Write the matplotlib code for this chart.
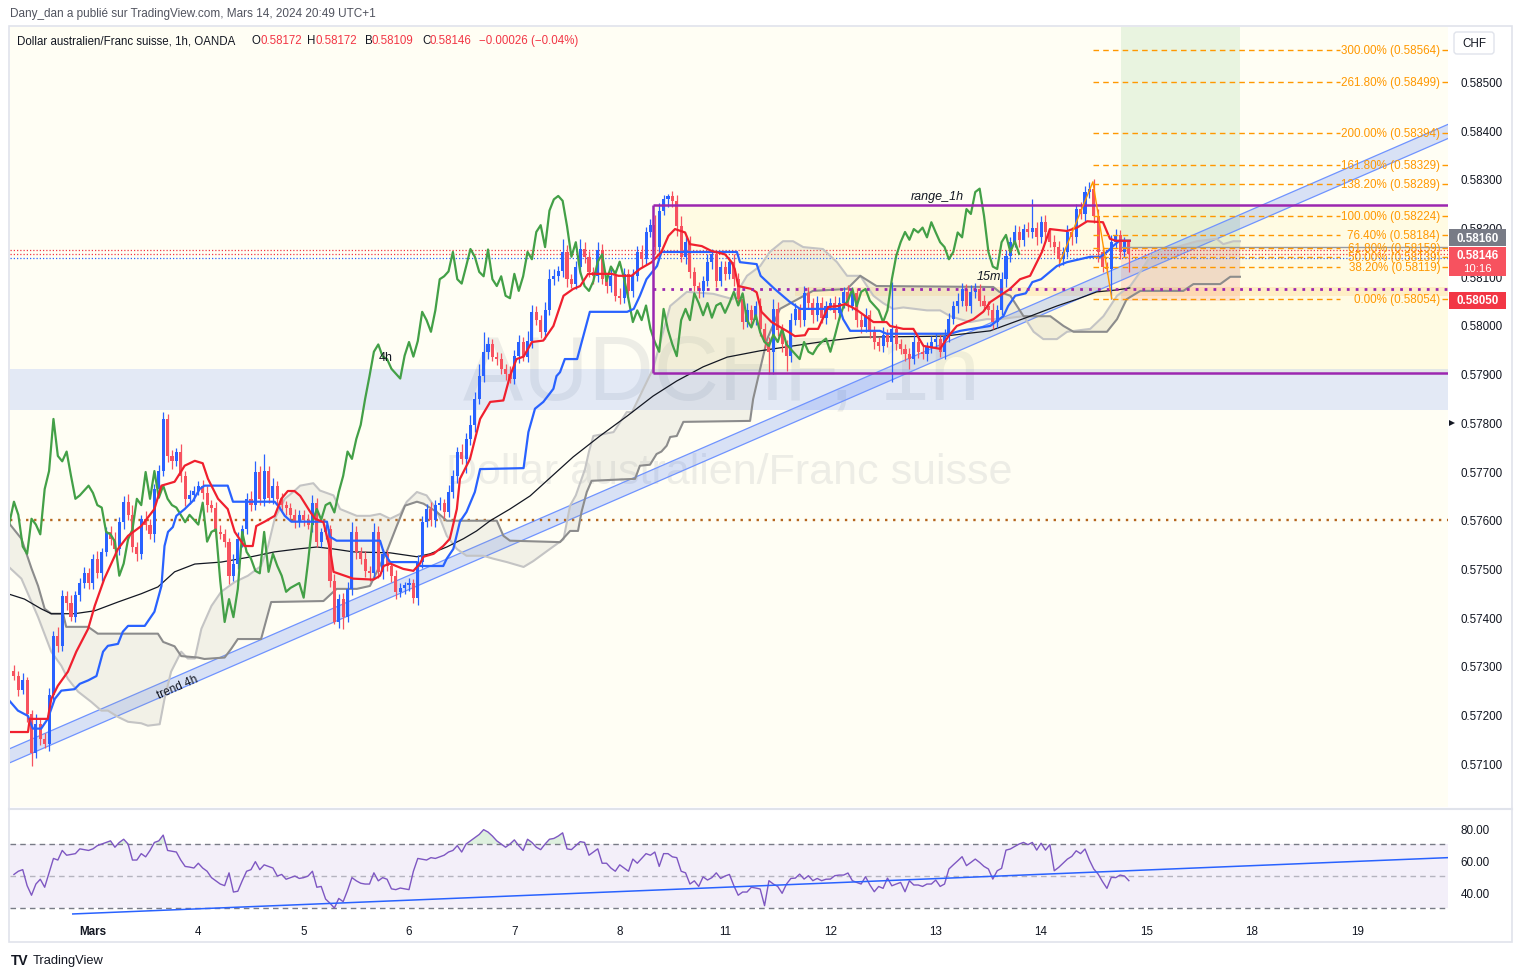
import numpy as np
import matplotlib
matplotlib.use("Agg")
import matplotlib.pyplot as plt
from matplotlib.patches import Rectangle, Polygon, FancyBboxPatch

plt.rcParams['font.family'] = ['Liberation Sans', 'DejaVu Sans']

W, H = 1521, 979
U = 1e-5  # prices below are stored in units of 0.00001

# ---------------- data ----------------
day_ticks = [18, 42, 66, 90, 114, 138, 162, 186, 210, 234, 258, 282, 306]
day_labels = ['Mars', '4', '5', '6', '7', '8', '11', '12', '13', '14', '15', '18', '19']

first_open = 57290
closes = (
    [57280, 57250, 57270, 57200, 57120, 57180, 57150, 57140, 57240, 57361, 57340, 57444, 57430, 57400, 57445, 57470, 57490, 57470]
    + [57520, 57490, 57534, 57575, 57560, 57540, 57595, 57637, 57610, 57545, 57530, 57602, 57590, 57570, 57663, 57700, 57807, 57731, 57720, 57740, 57690, 57643, 57650, 57660]
    + [57670, 57655, 57630, 57625, 57575, 57570, 57555, 57485, 57510, 57560, 57580, 57643, 57630, 57698, 57643, 57700, 57645, 57670, 57643, 57630, 57625, 57610, 57595, 57610]
    + [57600, 57590, 57635, 57555, 57575, 57580, 57474, 57390, 57437, 57400, 57458, 57575, 57534, 57520, 57495, 57490, 57575, 57493, 57530, 57505, 57485, 57452, 57460, 57465]
    + [57470, 57440, 57513, 57596, 57622, 57600, 57630, 57635, 57615, 57657, 57690, 57740, 57725, 57766, 57795, 57848, 57895, 57945, 57960, 57935, 57930, 57910, 57900, 57890]
    + [57937, 57965, 57935, 57967, 58027, 58010, 57986, 58030, 58094, 58100, 58110, 58150, 58094, 58085, 58120, 58156, 58140, 58109, 58100, 58155, 58094, 58080, 58100, 58060]
    + [58055, 58105, 58070, 58100, 58150, 58135, 58191, 58205, 58160, 58235, 58258, 58265, 58255, 58203, 58140, 58170, 58109, 58080, 58070, 58090, 58130, 58145, 58090, 58120]
    + [58105, 58130, 58095, 58053, 58006, 58030, 58010, 58040, 57992, 57965, 57945, 58033, 57990, 57960, 57936, 58010, 58033, 58010, 58065, 58045, 58020, 58045, 58015, 58040]
    + [58045, 58025, 58045, 58068, 58040, 58065, 58010, 57995, 58020, 57985, 57965, 57957, 57980, 57965, 57992, 57960, 57950, 57940, 57930, 57965, 57945, 57940, 57955, 57965]
    + [57972, 57945, 57977, 58012, 58039, 58050, 58074, 58039, 58068, 58074, 58050, 58040, 58030, 58006, 58030, 58094, 58142, 58170, 58191, 58175, 58197, 58190, 58200, 58180]
    + [58211, 58190, 58170, 58160, 58135, 58150, 58190, 58180, 58238, 58228, 58273, 58280, 58224, 58150, 58120, 58115, 58170, 58185, 58150, 58172, 58146]
)
wick_up = (
    [12, 10, 15, 8, 10, 20, 10, 12, 15, 10, 18, 12, 10, 15, 8, 10, 12, 10]
    + [10, 15, 8, 10, 12, 15, 10, 12, 15, 20, 10, 8, 15, 12, 10, 12, 14, 10, 12, 8, 15, 10, 12, 10]
    + [10, 12, 15, 10, 12, 15, 10, 8, 20, 15, 10, 12, 15, 22, 12, 35, 10, 15, 10, 12, 8, 10, 12, 10]
    + [10, 12, 15, 10, 8, 12, 10, 15, 10, 12, 15, 20, 12, 10, 15, 10, 18, 12, 10, 8, 10, 12, 10, 8]
    + [10, 8, 15, 12, 10, 15, 10, 12, 8, 15, 12, 10, 15, 12, 20, 15, 25, 41, 15, 12, 10, 12, 10, 15]
    + [12, 15, 10, 20, 15, 12, 10, 18, 20, 15, 12, 27, 15, 10, 12, 20, 15, 12, 10, 15, 12, 10, 15, 12]
    + [15, 12, 10, 15, 12, 15, 10, 12, 20, 15, 8, 5, 10, 12, 20, 15, 12, 10, 8, 10, 15, 12, 10, 12]
    + [12, 10, 15, 12, 10, 15, 12, 10, 15, 12, 10, 20, 15, 12, 10, 15, 12, 10, 15, 12, 10, 15, 12, 10]
    + [10, 15, 12, 10, 15, 12, 10, 12, 15, 10, 12, 10, 15, 12, 96, 10, 12, 10, 12, 15, 10, 12, 10, 12]
    + [12, 10, 15, 12, 10, 15, 12, 10, 15, 12, 10, 12, 10, 15, 12, 15, 12, 10, 15, 12, 10, 15, 59, 12]
    + [12, 15, 10, 15, 12, 10, 15, 12, 10, 15, 12, 14, 20, 15, 12, 10, 15, 12, 10, 8, 0]
)
wick_dn = (
    [10, 12, 8, 15, 25, 10, 12, 8, 15, 10, 12, 10, 15, 8, 10, 12, 10, 12]
    + [12, 10, 15, 8, 12, 10, 12, 15, 10, 12, 15, 10, 12, 10, 15, 12, 10, 12, 15, 10, 12, 15, 10, 12]
    + [10, 12, 15, 10, 12, 10, 12, 17, 10, 12, 15, 10, 12, 10, 12, 15, 10, 12, 10, 12, 15, 10, 12, 10]
    + [12, 10, 15, 12, 10, 15, 12, 5, 12, 24, 10, 12, 15, 10, 12, 15, 10, 12, 15, 10, 12, 15, 10, 12]
    + [12, 10, 15, 12, 10, 12, 15, 10, 12, 10, 12, 15, 10, 30, 12, 15, 10, 12, 15, 10, 12, 10, 12, 10]
    + [12, 15, 10, 12, 15, 10, 12, 15, 10, 12, 10, 12, 15, 10, 12, 15, 12, 10, 15, 12, 10, 15, 12, 10]
    + [12, 10, 15, 12, 10, 15, 12, 10, 15, 12, 10, 15, 12, 20, 10, 15, 12, 10, 15, 12, 10, 15, 12, 10]
    + [12, 10, 15, 12, 15, 10, 12, 10, 15, 12, 45, 45, 12, 15, 30, 12, 10, 15, 12, 10, 15, 12, 10, 12]
    + [10, 12, 15, 10, 12, 10, 15, 12, 10, 12, 15, 10, 12, 10, 82, 12, 10, 15, 20, 10, 12, 10, 15, 12]
    + [12, 10, 15, 12, 10, 15, 12, 10, 15, 12, 10, 12, 10, 15, 12, 10, 15, 12, 10, 15, 12, 10, 12, 15]
    + [12, 15, 10, 12, 15, 12, 10, 15, 12, 10, 15, 12, 15, 20, 12, 10, 62, 12, 15, 10, 37]
)
rsi_values = (
    [51, 53, 54, 44, 38, 45, 48, 43, 52, 61, 60, 66, 63, 63.5, 64, 67, 66.5, 66]
    + [67, 69, 70, 71, 72, 68, 71, 73, 70, 60, 60, 64, 62, 66, 71, 72, 75.6, 66, 65.5, 65, 60, 56, 55.6, 55]
    + [58, 55, 53, 49, 47, 45, 44, 52, 40, 40.5, 47, 53, 54, 59, 54, 57, 56, 55, 50, 51, 48, 49, 50, 48.5]
    + [49, 50, 53, 43, 43.5, 35.6, 33, 30, 36, 34, 41, 49, 47, 45.5, 45, 45, 52, 47, 49, 48, 42, 41.5, 42.5, 42]
    + [41.5, 53, 61, 60.5, 60, 61.5, 61, 62, 63, 65, 66, 69, 65, 70, 72, 74, 76, 79, 77.5, 75, 72, 70, 68, 70]
    + [72.6, 69, 66, 73, 71, 68, 66.5, 70, 73, 73.5, 75, 77, 67, 66.5, 69, 71.5, 71, 63, 65, 67, 58, 58, 55, 53]
    + [57, 55, 53, 60.6, 58, 61, 64, 63, 65, 56, 64, 64, 62, 61.5, 53, 52, 45, 47, 43.5, 49.5, 47.5, 49, 52, 48.5]
    + [50, 51, 44, 38, 40, 40, 43, 42.5, 41.9, 31.5, 47.1, 45, 43.5, 39.2, 45, 48.5, 48.7, 51.2, 48.1, 50.2, 47.1, 48.5, 47.1, 48]
    + [48.1, 50.2, 50.6, 50.6, 51.9, 47.1, 46, 45, 49.6, 44.4, 40.2, 43.5, 42.3, 48.7, 43.9, 45, 46, 40.2, 47.1, 44.4, 44.4, 43.5, 45, 45]
    + [47.5, 43.5, 45, 54.4, 57, 59.5, 62.1, 56.5, 58.5, 60.6, 58.5, 56, 54.4, 48.1, 53.3, 54.8, 66.2, 66.9, 68.5, 70, 71, 69.6, 71, 66.2]
    + [70.5, 66.2, 69.6, 53.3, 55.4, 58, 60.6, 62.3, 65.8, 64, 66.9, 60, 54.4, 51.2, 46.5, 42.3, 49.2, 49, 50.6, 50, 47.1]
)

# indicator lines: (bar index, price)
tenkan = [(-1.4, 57164), (3.2, 57164), (3.6, 57191), (7.7, 57191), (8.5, 57232), (10, 57259), (12.3, 57288), (14.2, 57329),
          (16.9, 57376), (18.4, 57423), (20.6, 57479), (23.7, 57540), (26, 57567), (29, 57587), (32, 57622), (33.6, 57670),
          (36.6, 57678), (38.9, 57711), (41.2, 57721), (43, 57716), (44.2, 57684), (46.5, 57643), (48.7, 57622), (50.3, 57575),
          (52.5, 57546), (54.4, 57546), (55.2, 57587), (57.1, 57596), (59.4, 57608), (60.9, 57643), (62.4, 57659), (63.9, 57659),
          (65.2, 57649), (67.5, 57616), (68.6, 57602), (70.5, 57595), (72, 57540), (72.8, 57493), (77.3, 57479), (81.9, 57477),
          (83.4, 57485), (84.2, 57505), (85.7, 57510), (88.7, 57499), (91, 57495), (92.5, 57510), (93.3, 57524), (95.6, 57530),
          (97.8, 57546), (99.3, 57561), (100.9, 57622), (101.6, 57684), (103.9, 57725), (106.2, 57807), (108.5, 57842),
          (111.5, 57845), (113, 57895), (114.5, 57930), (116.1, 57935), (118, 57965), (120.6, 57968), (122.9, 57998),
          (125.2, 58060), (127.4, 58074), (129, 58080), (130.8, 58105), (136.2, 58105), (137.7, 58101), (140.7, 58101),
          (142.6, 58115), (145.3, 58129), (147.5, 58150), (149.1, 58183), (150.6, 58197), (152.9, 58190), (154, 58166),
          (156.7, 58162), (158.9, 58152), (162, 58145), (163.5, 58129), (164.2, 58115), (165, 58080), (168, 58074),
          (169.2, 58067), (170.3, 58027), (172.6, 58006), (174.1, 57998), (176.4, 57986), (177.9, 57977), (180.2, 57979),
          (181, 57992), (183.2, 57992), (185.5, 58037), (187.8, 58039), (189.3, 58043), (190.8, 58037), (192.3, 58029),
          (195.8, 58006), (198.8, 58006), (199.6, 57998), (202.6, 57992), (204.9, 57992), (207.2, 57957), (211, 57951),
          (212.9, 57977), (214.8, 57998), (217, 58006), (218.6, 58012), (220.8, 58027), (222.4, 58047), (226.9, 58074),
          (229.2, 58094), (231.5, 58101), (234.2, 58150), (236, 58197), (239.9, 58193), (242.2, 58200), (244.5, 58213),
          (248.1, 58211), (249.7, 58177), (251, 58173), (254.2, 58173)]
kijun = [(-1.4, 57232), (0.9, 57208), (3.2, 57197), (4.3, 57171), (6.2, 57171), (7.7, 57191), (9.3, 57232), (10.8, 57249),
         (13.8, 57252), (15, 57263), (16.9, 57270), (18.8, 57279), (20.3, 57329), (21.4, 57341), (23.7, 57345), (24.8, 57370),
         (26, 57382), (29.8, 57382), (32, 57411), (33.6, 57464), (34.3, 57546), (35.1, 57575), (36.2, 57585), (37, 57608),
         (38.9, 57622), (40.8, 57639), (42.3, 57663), (43.4, 57670), (48.7, 57670), (49.9, 57637), (59.4, 57637),
         (60.5, 57625), (61.7, 57608), (63.2, 57596), (71.3, 57596), (72, 57565), (73.5, 57557), (83.4, 57557), (84.2, 57534),
         (85.7, 57513), (91.8, 57513), (92.5, 57505), (97.8, 57505), (98.6, 57520), (100.1, 57540), (101.6, 57596),
         (103.1, 57616), (105, 57657), (106.2, 57704), (116.1, 57706), (117.2, 57780), (118.7, 57828), (120.6, 57842),
         (122.9, 57869), (123.6, 57895), (124.4, 57903), (125.5, 57930), (128.3, 57930), (131.2, 58027), (139.7, 58027),
         (141.2, 58033), (142.6, 58060), (144.1, 58094), (146.5, 58121), (147.5, 58150), (164.7, 58150), (165.4, 58129),
         (169.2, 58125), (170.1, 58101), (173.3, 58074), (176.8, 58047), (179.1, 58033), (188.2, 58033), (188.9, 58012),
         (190.5, 57988), (197.3, 57988), (198.8, 57982), (213.3, 57982), (215.6, 57988), (222.4, 57998), (225.4, 58018),
         (226.5, 58039), (228.1, 58060), (230.5, 58065), (232, 58088), (234, 58094), (237.6, 58121), (239.9, 58129),
         (245.2, 58140), (247.5, 58140), (249, 58150), (250.4, 58162), (251.8, 58173), (254.2, 58173)]
ma200 = [(-1.4, 57448), (2.4, 57437), (6.2, 57417), (8.5, 57407), (13.8, 57407), (18.4, 57413), (23.7, 57431), (29, 57448),
         (32.8, 57462), (36.6, 57493), (41.2, 57509), (47.2, 57513), (54.1, 57524), (59.4, 57534), (64.7, 57540), (69, 57544),
         (72.8, 57540), (77.3, 57534), (85.7, 57532), (91.8, 57524), (94.8, 57530), (98.6, 57544), (102.4, 57561),
         (105.4, 57577), (108.5, 57598), (113, 57622), (117.6, 57649), (123.6, 57698), (127.4, 57729), (133.5, 57772),
         (139.7, 57813), (145.6, 57854), (151, 57885), (157, 57914), (162.5, 57934), (170, 57947), (177.5, 57957),
         (185.2, 57967), (192.8, 57975), (211.8, 57977), (222.4, 57988), (231.5, 58018), (237.6, 58039), (242.2, 58053),
         (246.7, 58068), (251.3, 58072), (254.2, 58076)]
span_a = [(-1.4, 57505), (1.7, 57479), (5.5, 57400), (8.5, 57329), (10.8, 57300), (12.3, 57273), (14.6, 57247), (17.6, 57226),
          (19.9, 57208), (21.4, 57208), (23.7, 57195), (26, 57185), (29, 57182), (30.5, 57177), (33.2, 57180), (34.3, 57232),
          (35.8, 57288), (38.1, 57329), (39.6, 57315), (41.2, 57315), (42.7, 57376), (45, 57423), (47.2, 57452), (50.3, 57472),
          (53.3, 57485), (56.3, 57505), (57.9, 57546), (59.4, 57602), (61.7, 57643), (64, 57660), (65.2, 57670), (68.2, 57675),
          (69.7, 57660), (72.8, 57650), (74.3, 57622), (78.1, 57608), (81.1, 57608), (83.4, 57612), (85.7, 57602), (88, 57612),
          (89.5, 57637), (91.8, 57657), (94, 57650), (95.6, 57630), (97.1, 57602), (98.6, 57567), (100.9, 57540),
          (103.1, 57526), (106.9, 57526), (109.2, 57520), (112.3, 57513), (116.1, 57503), (118.3, 57515), (122.1, 57540),
          (125.2, 57560), (126.7, 57629), (128, 57650), (130.1, 57704), (131, 57740), (132, 57772), (136.6, 57780),
          (139.6, 57821), (140.8, 57821), (143.4, 57869), (145.6, 57910), (149.5, 58039), (153.3, 58068), (159.3, 58064),
          (163.8, 58053), (167, 58101), (170, 58121), (172.2, 58150), (175.2, 58172), (177.5, 58172), (179.8, 58160),
          (184.3, 58156), (187.5, 58129), (189.8, 58101), (192.8, 58101), (195.8, 58060), (198, 58045), (200.3, 58033),
          (202.6, 58036), (208, 58030), (211, 58030), (213.3, 58018), (215.5, 58012), (217.8, 58006), (221.6, 58012),
          (224.5, 58012), (230, 58018), (232.3, 57986), (234.5, 57971), (237.6, 57971), (239.9, 57986), (245.2, 57992),
          (248.2, 58018), (251.3, 58060), (254.3, 58080), (256.6, 58109), (258.8, 58140), (261.9, 58156), (264.9, 58160),
          (269.5, 58172), (274, 58177), (275.5, 58166), (277.8, 58172), (279.3, 58172)]
span_b = [(-1.4, 57596), (1.7, 57561), (4, 57500), (5.5, 57464), (7, 57417), (8.5, 57407), (11.2, 57407), (11.9, 57380),
          (16.9, 57380), (19.1, 57366), (32.8, 57366), (34, 57349), (36.6, 57340), (38.1, 57320), (41.9, 57317), (43.4, 57314),
          (48, 57317), (49.5, 57335), (51, 57355), (56.3, 57355), (58.6, 57431), (70.5, 57433), (73.5, 57458), (78.1, 57458),
          (81.1, 57464), (84.9, 57534), (87.2, 57587), (89.1, 57629), (91.8, 57637), (93.3, 57633), (96.3, 57616),
          (98.6, 57598), (110, 57598), (111.5, 57567), (113, 57557), (124.4, 57554), (126.7, 57577), (128.5, 57577),
          (129.3, 57616), (130.5, 57657), (131.6, 57680), (141.5, 57684), (142.6, 57711), (144.9, 57713), (146.4, 57735),
          (147.5, 57740), (148.7, 57752), (149.5, 57770), (151, 57772), (152.5, 57801), (167.7, 57803), (168.4, 57848),
          (170, 57910), (171.6, 57971), (174.5, 58033), (182, 58070), (189.8, 58074), (192.8, 58101), (196.5, 58080),
          (223.1, 58078), (224.5, 58068), (227, 58060), (230, 58018), (236.1, 58018), (239.1, 57998), (241.4, 57986),
          (249, 57986), (251.3, 58012), (253.5, 58053), (256.6, 58070), (266.4, 58070), (268.7, 58084), (274.8, 58084),
          (277.1, 58099), (279.3, 58099)]
CHIKOU_SHIFT = 25

trend_upper = [(-0.9, 57130), (326.7, 58412)]
trend_width = 29
rsi_trend = [(13.4, 26.3), (326.7, 61.5)]
range_box = (145.6, 57901, 58246)
range_mid = 58074
zone_blue = (57825, 57910)
level_576 = 57600
band_orange = (178, 58060, 58078)
fib_pct = ['300.00%', '261.80%', '200.00%', '161.80%', '138.20%', '100.00%', '76.40%', '61.80%', '50.00%', '38.20%', '0.00%']
fib_price = [58564, 58499, 58394, 58329, 58289, 58224, 58184, 58159, 58139, 58119, 58054]
fib_swing = [(238.3, 58129), (245.8, 58294), (250.1, 58054)]
position = (252.2, 279.3, 58160, 58050)
red_last_lines = [58153, 58146]
blue_last_lines = [58137]
price_ticks = [57100, 57200, 57300, 57400, 57500, 57600, 57700, 57800, 57900, 58000, 58100, 58200, 58300, 58400, 58500]
rsi_ticks = [40, 60, 80]

# ---------------- figure ----------------
fig = plt.figure(figsize=(W / 100, H / 100), dpi=100)
fig.patch.set_facecolor('white')
XL, XR = -0.9, 326.7
YB, YT = 0.57010, 0.58612


def frac(x0, y0, x1, y1):
    return [x0 / W, 1 - y1 / H, (x1 - x0) / W, (y1 - y0) / H]


def pts(p):
    a = np.array(p, float)
    return a[:, 0], a[:, 1] * U


ax = fig.add_axes(frac(10, 28, 1448, 808))
ax2 = fig.add_axes(frac(10, 810, 1448, 918))
ov = fig.add_axes([0, 0, 1, 1], zorder=10)
ov.set_xlim(0, W)
ov.set_ylim(H, 0)
ov.axis('off')
ov.patch.set_alpha(0)

ax.set_facecolor('#fffef4')
ax.set_xlim(XL, XR)
ax.set_ylim(YB, YT)
for s in ax.spines.values():
    s.set_visible(False)

# watermark
ax.text(0.495, 0.554, 'AUDCHF, 1h', transform=ax.transAxes, fontsize=65, color='#8a8d96', alpha=0.15,
        ha='center', va='center', zorder=0.5)
ax.text(0.5, 0.4295, 'Dollar australien/Franc suisse', transform=ax.transAxes, fontsize=31, color='#8a8d96',
        alpha=0.15, ha='center', va='center', zorder=0.5)

# zones
ax.add_patch(Rectangle((XL, zone_blue[0] * U), XR - XL, (zone_blue[1] - zone_blue[0]) * U,
                       fc='#2962ff', alpha=0.13, ec='none', zorder=0.7))
x0r, lo_r, hi_r = range_box
ax.add_patch(Rectangle((x0r, lo_r * U), XR - x0r, (hi_r - lo_r) * U, fc='#fff3a0', alpha=0.2, ec='none', zorder=0.6))
bx0, blo, bhi = band_orange
ax.add_patch(Rectangle((bx0, blo * U), XR - bx0, (bhi - blo) * U, fc='#ff9800', alpha=0.13, ec='none', zorder=0.8))
px0, px1, entry, stop = position
ax.add_patch(Rectangle((px0, entry * U), px1 - px0, YT - entry * U, fc='#4caf50', alpha=0.12, ec='none', zorder=0.9))
ax.add_patch(Rectangle((px0, stop * U), px1 - px0, (entry - stop) * U, fc='#f44336', alpha=0.13, ec='none', zorder=0.9))

# trend channel
(tx0, tu0), (tx1, tu1) = trend_upper
ax.add_patch(Polygon([(tx0, tu0 * U), (tx1, tu1 * U), (tx1, (tu1 - trend_width) * U), (tx0, (tu0 - trend_width) * U)],
                     closed=True, fc='#2962ff', alpha=0.18, ec='none', zorder=1.0))
ax.plot([tx0, tx1], [tu0 * U, tu1 * U], color='#6f93ff', lw=0.9, zorder=1.1)
ax.plot([tx0, tx1], [(tu0 - trend_width) * U, (tu1 - trend_width) * U], color='#6f93ff', lw=0.9, zorder=1.1)
ax.text(37.4, 57258 * U, 'trend 4h', rotation=23.5, rotation_mode='anchor', fontsize=8.5, color='#131722',
        ha='center', va='center', zorder=6)

# horizontal levels
ax.hlines(level_576 * U, XL, XR, colors='#b5651d', lw=1.7, linestyles=(0, (1, 2.4)), zorder=1.2)
for v in red_last_lines:
    ax.hlines(v * U, XL, XR, colors='#f23645', lw=0.9, linestyles=(0, (1, 1.6)), zorder=1.2)
for v in blue_last_lines:
    ax.hlines(v * U, XL, XR, colors='#2962ff', lw=0.9, linestyles=(0, (1, 1.6)), zorder=1.2)

# ichimoku cloud
sax, say = pts(span_a)
sbx, sby = pts(span_b)
gx = np.union1d(sax, sbx)
ga = np.interp(gx, sax, say)
gb = np.interp(gx, sbx, sby)
ax.fill_between(gx, ga, gb, color='#a5a59c', alpha=0.14, lw=0, zorder=1.5)
ax.plot(sax, say, color='#c4c4c4', lw=1.5, zorder=2)
ax.plot(sbx, sby, color='#8c8c8c', lw=1.5, zorder=2)

# MA
mx, my = pts(ma200)
ax.plot(mx, my, color='#131722', lw=0.9, zorder=2.5)

# candles
c = np.array(closes, float) * U
n = len(c)
o = np.r_[first_open * U, c[:-1]]
wu = np.array(wick_up, float) * U
wd = np.array(wick_dn, float) * U
hi = np.maximum(o, c) + wu
lo = np.minimum(o, c) - wd
idx = np.arange(n)
col = np.where(c >= o, '#2962ff', '#f7525f')
ax.vlines(idx, lo, hi, colors=col, lw=0.9, zorder=3)
ax.bar(idx, np.maximum(np.abs(c - o), 0.8 * U), bottom=np.minimum(o, c), width=0.7, color=col, lw=0, zorder=3.1)

# ichimoku lines
ax.plot(idx - CHIKOU_SHIFT, c, color='#43a047', lw=1.6, zorder=4)
kx, ky = pts(kijun)
ax.plot(kx, ky, color='#2962ff', lw=1.6, zorder=4.1)
tkx, tky = pts(tenkan)
ax.plot(tkx, tky, color='#f0202e', lw=1.6, zorder=4.2)

# range box
ax.hlines([lo_r * U, hi_r * U], x0r, XR, colors='#9c27b0', lw=1.8, zorder=5)
ax.vlines(x0r, lo_r * U, hi_r * U, colors='#9c27b0', lw=1.8, zorder=5)
ax.hlines(range_mid * U, x0r, XR, colors='#9c27b0', lw=2, linestyles=(0, (1, 2.2)), zorder=5)
ax.text(210.3, 58265 * U, 'range_1h', fontsize=9, style='italic', color='#131722', ha='center', va='center', zorder=6)
ax.text(84.8, 57934 * U, '4h', fontsize=9, color='#131722', ha='center', va='center', zorder=6)
ax.text(222.1, 58101 * U, '15m', fontsize=9, style='italic', color='#131722', ha='center', va='center', zorder=6)

# position entry line
ax.hlines(entry * U, px0, XR, colors='#9598a1', lw=1, zorder=5)

# fib extension
fsx, fsy = pts(fib_swing)
ax.plot(fsx, fsy, color='#ff9800', lw=1, zorder=5)
for pct, pr in zip(fib_pct, fib_price):
    yv = pr * U
    ax.hlines(yv, 245.8, 302.1, colors='#ff9800', lw=1, linestyles=(0, (4, 3)), zorder=5)
    ax.hlines(yv, 325.4, XR, colors='#ff9800', lw=1, zorder=5)
    ax.text(324.9, yv, f"{pct} ({pr * U:.5f})", color='#ff9800', fontsize=8.4, ha='right', va='center', zorder=6)

# price axis
ax.yaxis.tick_right()
ax.set_yticks([v * U for v in price_ticks])
ax.set_yticklabels([f"{v * U:.5f}" for v in price_ticks])
ax.tick_params(axis='y', length=0, pad=9, labelsize=8.4, labelcolor='#131722')
ax.set_xticks([])

# ---------------- RSI pane ----------------
r = np.array(rsi_values, float)
ax2.set_facecolor('white')
ax2.set_xlim(XL, XR)
ax2.set_ylim(24.4, 91.9)
for s in ax2.spines.values():
    s.set_visible(False)
ax2.axhspan(30, 70, color='#7e57c2', alpha=0.09, lw=0, zorder=0.5)
ax2.hlines([70, 30], XL, XR, colors='#787b86', lw=1, linestyles=(0, (4, 3)), zorder=1)
ax2.hlines(50, XL, XR, colors='#787b86', alpha=0.5, lw=1, linestyles=(0, (4, 3)), zorder=1)
ri = np.arange(len(r))
ax2.fill_between(ri, r, 70, where=r > 70, interpolate=True, color='#4caf50', alpha=0.18, lw=0, zorder=1.5)
ax2.fill_between(ri, r, 30, where=r < 30, interpolate=True, color='#f23645', alpha=0.18, lw=0, zorder=1.5)
ax2.plot(ri, r, color='#7e57c2', lw=1, zorder=2)
rtx, rty = np.array(rsi_trend, float).T
ax2.plot(rtx, rty, color='#2962ff', lw=1.1, zorder=2.1)
ax2.yaxis.tick_right()
ax2.set_yticks(rsi_ticks)
ax2.set_yticklabels([f"{v:.2f}" for v in rsi_ticks])
ax2.tick_params(axis='y', length=0, pad=9, labelsize=8.4, labelcolor='#131722')
ax2.set_xticks(day_ticks)
ax2.set_xticklabels(day_labels)
ax2.tick_params(axis='x', length=0, pad=6, labelsize=8.4, labelcolor='#131722')
ax2.get_xticklabels()[0].set_fontweight('bold')

# ---------------- overlay (pixel coordinates) ----------------
ov.add_patch(Rectangle((9, 27), 1503, 916, fill=False, ec='#e0e3eb', lw=1.2))
ov.plot([9, 1512], [809.5, 809.5], color='#e0e3eb', lw=1.5)
ov.text(10, 14, "Dany_dan a publié sur TradingView.com, Mars 14, 2024 20:49 UTC+1", fontsize=8.5,
        color='#50535e', va='center', ha='left')
dark, red = '#131722', '#f23645'
legend_pieces = [(17, "Dollar australien/Franc suisse, 1h, OANDA", dark),
                 (252, "O", dark), (260.5, "0.58172", red),
                 (306.5, "H", dark), (315, "0.58172", red),
                 (365, "B", dark), (372, "0.58109", red),
                 (422.6, "C", dark), (430, "0.58146", red),
                 (479, "\u22120.00026 (\u22120.04%)", red)]
for xp, txt, cc in legend_pieces:
    ov.text(xp, 41, txt, fontsize=8.3, color=cc, va='center', ha='left')

# CHF box
ov.add_patch(FancyBboxPatch((1454, 33), 40, 22, boxstyle='round,pad=0,rounding_size=3', fc='white', ec='#e0e3eb', lw=1))
ov.text(1474, 44, 'CHF', fontsize=8.4, color=dark, ha='center', va='center')

# price labels on the scale
ov.add_patch(Rectangle((1449, 230), 57, 17, fc='#787b86', ec='none'))
ov.text(1477.5, 238.5, '0.58160', fontsize=8.4, color='white', fontweight='bold', ha='center', va='center')
ov.add_patch(Rectangle((1449, 248), 57, 29, fc='#f7525f', ec='none'))
ov.text(1477.5, 256, '0.58146', fontsize=8.4, color='white', fontweight='bold', ha='center', va='center')
ov.text(1477.5, 269.5, '10:16', fontsize=8.2, color='white', ha='center', va='center')
ov.add_patch(Rectangle((1449, 293), 57, 17, fc='#f23645', ec='none'))
ov.text(1477.5, 301.5, '0.58050', fontsize=8.4, color='white', fontweight='bold', ha='center', va='center')
ov.plot([1452], [424], marker='>', color=dark, ms=5, mew=0)

# TradingView logo
ov.text(11, 961, 'TV', fontsize=10, fontweight='bold', color=dark, va='center', ha='left')
ov.text(33, 961, 'TradingView', fontsize=9.3, color=dark, va='center', ha='left')

fig.savefig('out.png', dpi=100, facecolor='white')
